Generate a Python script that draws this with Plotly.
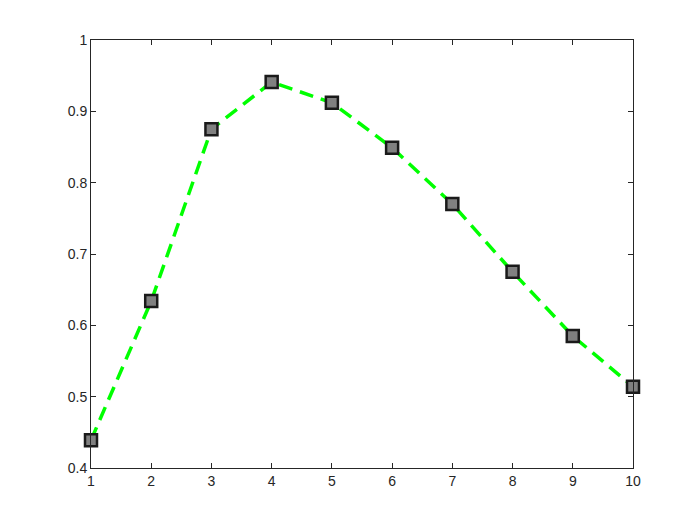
import plotly.graph_objects as go

x_vals = [1, 2, 3, 4, 5, 6, 7, 8, 9, 10]
y_vals = [0.439, 0.634, 0.875, 0.941, 0.912, 0.849, 0.770, 0.675, 0.585, 0.514]

x_ticks = [1, 2, 3, 4, 5, 6, 7, 8, 9, 10]
y_ticks = [0.4, 0.5, 0.6, 0.7, 0.8, 0.9, 1]
y_labels = ['0.4', '0.5', '0.6', '0.7', '0.8', '0.9', '1']

fig = go.Figure()

fig.add_trace(
    go.Scatter(x=x_vals, y=y_vals, mode='lines+markers',
               line=dict(color='#00ff00', width=3.5, dash='14px,8px'),
               marker=dict(symbol='square', size=12, color='#808080',
                           line=dict(color='#1a1a1a', width=2.5)),
               cliponaxis=False, showlegend=False)
)

axis_style = dict(
    showgrid=False, zeroline=False, showline=True, mirror='ticks',
    linecolor='#262626', linewidth=1, ticks='inside', ticklen=5,
    tickcolor='#262626', tickfont=dict(family='Liberation Sans, Arial', size=14, color='#262626'),
)

# page body has an 8px margin, so the figure is a bit smaller than the window
fig.update_layout(
    width=692, height=517,
    margin=dict(l=83, r=67, t=32, b=57),
    paper_bgcolor='white', plot_bgcolor='white',
    xaxis=dict(range=[1, 10], tickvals=x_ticks, **axis_style),
    yaxis=dict(range=[0.4, 1], tickvals=y_ticks, ticktext=y_labels, **axis_style),
)

fig.write_html("out.html")
